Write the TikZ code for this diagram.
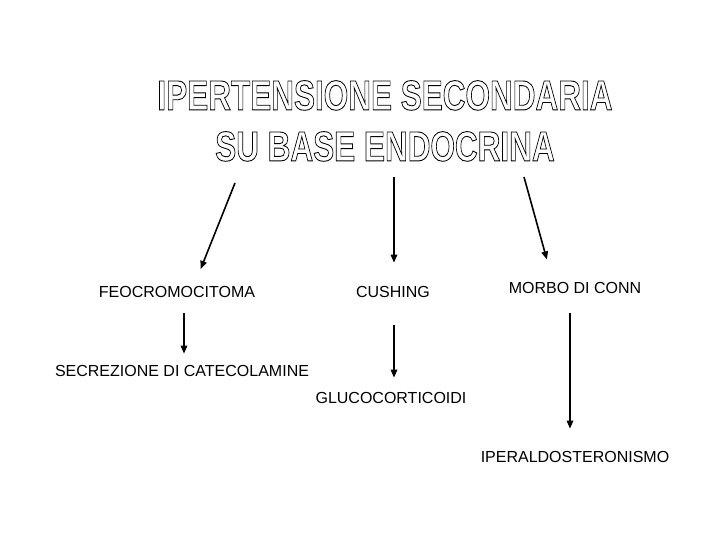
\documentclass[tikz,border=0pt]{standalone}
\usepackage{fontspec}
\setmainfont{Liberation Sans}
\usepackage{graphicx}
\usetikzlibrary{arrows.meta}
\newcommand{\outlineon}{\special{pdf:literal 1 Tr 0.9 w}}
\newcommand{\outlineoff}{\special{pdf:literal 0 Tr}}

\begin{document}
\begin{tikzpicture}[
    x=1pt, y=-1pt,
    >={Triangle[length=8pt,width=6.5pt]},
    lbl/.style  = {anchor=base, inner sep=0pt,
                   font=\fontsize{16}{19}\selectfont},
    ttl/.style  = {anchor=north, inner sep=0pt,
                   font=\fontsize{42}{51}\selectfont\bfseries},
    arr/.style  = {->, line width=1.6pt},
]
\useasboundingbox[fill=white] (0,0) rectangle (720,540);

%% ── Title ────────────────────────────────────────────────────────────────────
\node[ttl] (title) at (385,74) {\scalebox{0.75}[1]{%
    \begin{tabular}{@{}c@{}}\outlineon IPERTENSIONE SECONDARIA\outlineoff\\
      \outlineon SU BASE ENDOCRINA\outlineoff\end{tabular}}};

\coordinate (tl) at (235,183);
\coordinate (tm) at (394,177);
\coordinate (tr) at (524,177);

%% ── Causes ───────────────────────────────────────────────────────────────────
\node[lbl] (feo)  at (177,297) {FEOCROMOCITOMA};
\node[lbl] (cush) at (393,297) {CUSHING};
\node[lbl] (conn) at (575,293) {MORBO DI CONN};

%% ── Effects ──────────────────────────────────────────────────────────────────
\node[lbl] (sec)  at (182,376) {SECREZIONE DI CATECOLAMINE};
\node[lbl] (gluc) at (391,403) {GLUCOCORTICOIDI};
\node[lbl] (iper) at (575,462) {IPERALDOSTERONISMO};

%% ── Arrows ───────────────────────────────────────────────────────────────────
\draw[arr, shorten >=18pt] (tl) -- ([xshift=17pt]feo.north);
\draw[arr, shorten >=23pt] (tm) -- ([xshift=1pt]cush.north);
\draw[arr, shorten >=23pt] (tr) -- ([xshift=-22pt]conn.north);

\draw[arr, shorten <=16pt, shorten >=11pt] ([xshift=2pt]feo.south -| sec) -- ([xshift=2pt]sec.north);
\draw[arr, shorten <=28pt, shorten >=14pt] ([xshift=1pt]cush.south) -- ([xshift=3pt]gluc.north);
\draw[arr, shorten <=20pt, shorten >=22pt] ([xshift=-5pt]conn.south) -- ([xshift=-5pt]iper.north);

\end{tikzpicture}
\end{document}
